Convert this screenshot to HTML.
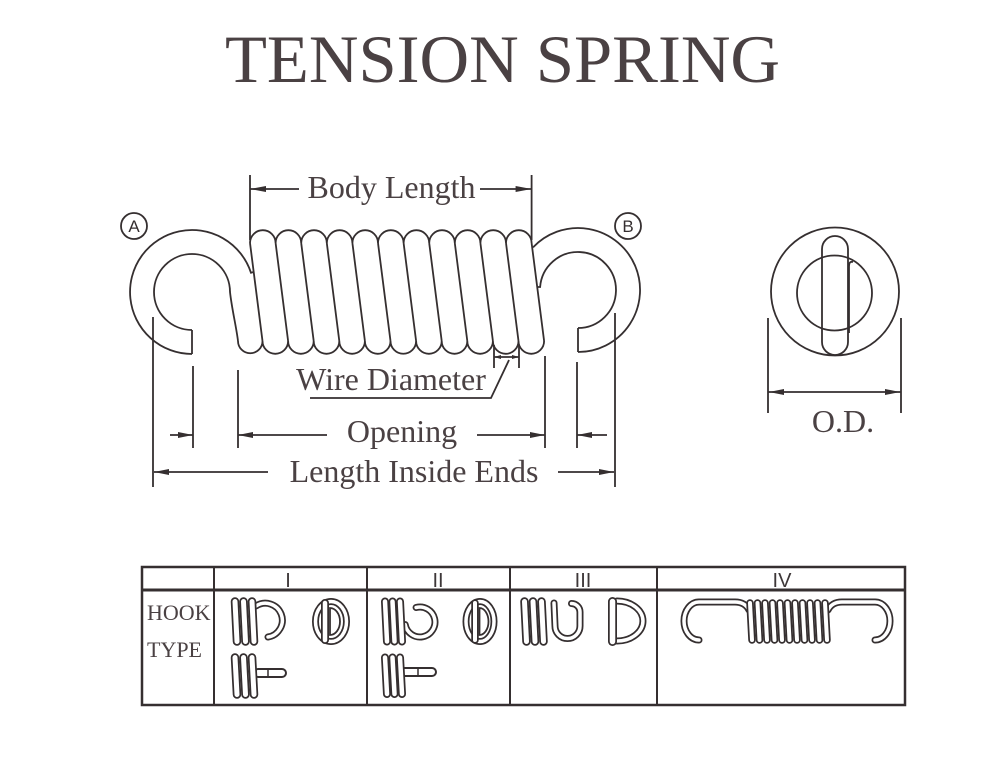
<!DOCTYPE html>
<html><head><meta charset="utf-8"><style>
html,body{margin:0;padding:0;background:#fff;}
svg{display:block;}
.l{stroke:#352f30;stroke-width:1.8;fill:none;}
.t{font-family:"Liberation Serif",serif;fill:#4a4143;}
.wb{stroke:#352f30;fill:none;stroke-linecap:round;stroke-linejoin:round;}
.ww{stroke:#fff;fill:none;stroke-linecap:round;stroke-linejoin:round;}
.ah{fill:#352f30;}
</style></head><body>
<svg width="1000" height="765" viewBox="0 0 1000 765" xmlns="http://www.w3.org/2000/svg">
<rect width="1000" height="765" fill="#fff"/>
<!-- Title -->
<text class="t" x="225" y="82" font-size="68" textLength="555" lengthAdjust="spacingAndGlyphs">TENSION SPRING</text>

<!-- Coil body -->
<path class="l" d="M250,243 A12.8,12.8 0 0 1 275.6,243 A12.8,12.8 0 0 1 301.2,243 A12.8,12.8 0 0 1 326.8,243 A12.8,12.8 0 0 1 352.4,243 A12.8,12.8 0 0 1 378,243 A12.8,12.8 0 0 1 403.6,243 A12.8,12.8 0 0 1 429.2,243 A12.8,12.8 0 0 1 454.8,243 A12.8,12.8 0 0 1 480.4,243 A12.8,12.8 0 0 1 506,243 A12.8,12.8 0 0 1 531.6,243"/>
<path class="l" d="M238,341 A12.25,12.25 0 0 0 262.5,341 A12.8,12.8 0 0 0 288.1,341 A12.8,12.8 0 0 0 313.7,341 A12.8,12.8 0 0 0 339.3,341 A12.8,12.8 0 0 0 364.9,341 A12.8,12.8 0 0 0 390.5,341 A12.8,12.8 0 0 0 416.1,341 A12.8,12.8 0 0 0 441.7,341 A12.8,12.8 0 0 0 467.3,341 A12.8,12.8 0 0 0 492.9,341 A12.8,12.8 0 0 0 518.5,341 A12.8,12.8 0 0 0 544.1,341"/>
<path class="l" d="M250,243 L262.5,341 M275.6,243 L288.1,341 M301.2,243 L313.7,341 M326.8,243 L339.3,341 M352.4,243 L364.9,341 M378,243 L390.5,341 M403.6,243 L416.1,341 M429.2,243 L441.7,341 M454.8,243 L467.3,341 M480.4,243 L492.9,341 M506,243 L518.5,341 M531.6,243 L544.1,341"/>
<!-- Hook A -->
<path class="l" d="M192,354 A62,62 0 1 1 251,272.8 L253.5,272"/>
<path class="l" d="M192,330 A38,38 0 1 1 230,292 C232,310 236,325 238,341"/>
<path class="l" d="M192,330 V354"/>
<!-- Hook B -->
<path class="l" d="M533,247.4 A62,62 0 1 1 578,352"/>
<path class="l" d="M538,287 L540.1,287 A38,38 0 1 1 578,328"/>
<path class="l" d="M578,328 V352"/>
<!-- A / B labels -->
<circle class="l" cx="134" cy="226" r="13" stroke-width="1.5"/>
<text x="134" y="232" font-family="Liberation Sans,sans-serif" font-size="17" fill="#352f30" text-anchor="middle">A</text>
<circle class="l" cx="628" cy="226" r="13" stroke-width="1.5"/>
<text x="628" y="232" font-family="Liberation Sans,sans-serif" font-size="17" fill="#352f30" text-anchor="middle">B</text>

<!-- Body Length -->
<path class="l" d="M250,175 V240 M531.6,175 V240 M250,189 H299 M480,189 H531.6"/>
<polygon class="ah" points="250,189 266,186 266,192"/>
<polygon class="ah" points="531.6,189 515.6,186 515.6,192"/>
<text class="t" x="391.5" y="198" font-size="32" text-anchor="middle">Body Length</text>

<!-- Wire diameter -->
<path class="l" d="M494,345 V368 M519,345 V368 M494,357 H519" stroke-width="1.4"/>
<polygon class="ah" points="494,357 501,355 501,359"/>
<polygon class="ah" points="519,357 512,355 512,359"/>
<path class="l" d="M509,360 L491,398 L310,398" stroke-width="1.6"/>
<text class="t" x="391" y="390" font-size="32" text-anchor="middle">Wire Diameter</text>

<!-- Lower dimensions -->
<path class="l" d="M153,317 V487 M193,366 V448 M238,370 V448 M545,356 V448 M577,362 V448 M615,313 V487"/>
<path class="l" d="M170,435 H193 M238,435 H327 M477,435 H545 M577,435 H607 M154,472 H268 M558,472 H614"/>
<polygon class="ah" points="193,435 178,432 178,438"/>
<polygon class="ah" points="238,435 253,432 253,438"/>
<polygon class="ah" points="545,435 530,432 530,438"/>
<polygon class="ah" points="577,435 592,432 592,438"/>
<polygon class="ah" points="154,472 169,469 169,475"/>
<polygon class="ah" points="614,472 599,469 599,475"/>
<text class="t" x="402" y="442" font-size="32" text-anchor="middle">Opening</text>
<text class="t" x="414" y="482" font-size="32" text-anchor="middle">Length Inside Ends</text>

<!-- OD view -->
<circle class="l" cx="835" cy="291.5" r="64"/>
<circle class="l" cx="834.5" cy="293" r="37.5"/>
<rect class="l" x="822" y="236" width="26" height="119" rx="13" fill="#fff"/>
<path class="l" d="M849,333 V266 Q849,261 853,262" />
<path class="l" d="M768,318 V413 M901,318 V413 M768,392 H901"/>
<polygon class="ah" points="769,392 784,389 784,395"/>
<polygon class="ah" points="900,392 885,389 885,395"/>
<text class="t" x="843" y="432" font-size="32" text-anchor="middle">O.D.</text>

<!-- Table -->
<rect x="142" y="567" width="763" height="138" fill="none" stroke="#352f30" stroke-width="2.5"/>
<path d="M142,590 H905" stroke="#352f30" stroke-width="3"/>
<path d="M214,567 V705 M367,567 V705 M510,567 V705 M657,567 V705" stroke="#352f30" stroke-width="2"/>
<g font-family="Liberation Sans,sans-serif" font-size="20" fill="#3d3738" text-anchor="middle">
<text x="288" y="587">I</text>
<text x="438" y="587">II</text>
<text x="583" y="587">III</text>
<text x="782" y="587">IV</text>
</g>
<text class="t" x="147" y="620" font-size="22">HOOK</text>
<text class="t" x="147" y="657" font-size="22">TYPE</text>

<!-- Type I -->
<g>
<path class="wb" stroke-width="7" d="M256,606 A17,17 0 1 1 268,637"/>
<path class="ww" stroke-width="3.5" d="M256,606 A17,17 0 1 1 268,637"/>
<path class="wb" stroke-width="8.5" d="M235,601.5 L237,641.5"/><path class="ww" stroke-width="5" d="M235,601.5 L237,641.5"/>
<path class="wb" stroke-width="8.5" d="M243.5,601.5 L245.5,641.5"/><path class="ww" stroke-width="5" d="M243.5,601.5 L245.5,641.5"/>
<path class="wb" stroke-width="8.5" d="M252,601.5 L254,641.5"/><path class="ww" stroke-width="5" d="M252,601.5 L254,641.5"/>

<ellipse cx="331" cy="621.5" rx="15.5" ry="20" fill="none" stroke="#352f30" stroke-width="7"/>
<ellipse cx="331" cy="621.5" rx="15.5" ry="20" fill="none" stroke="#fff" stroke-width="3.5"/>
<path class="wb" stroke-width="8" d="M325,603 V640"/><path class="ww" stroke-width="4.5" d="M325,603 V640"/>
<path d="M330,608 A10,13.5 0 0 1 330,635 Z" fill="none" stroke="#352f30" stroke-width="1.8"/>

<path class="wb" stroke-width="10" d="M258,673 H282"/><path class="ww" stroke-width="6" d="M258,673 H282"/>
<path d="M268,669 V677" stroke="#352f30" stroke-width="1.5"/>
<path class="wb" stroke-width="8.5" d="M235,657.5 L237,694.5"/><path class="ww" stroke-width="5" d="M235,657.5 L237,694.5"/>
<path class="wb" stroke-width="8.5" d="M243.5,657.5 L245.5,694.5"/><path class="ww" stroke-width="5" d="M243.5,657.5 L245.5,694.5"/>
<path class="wb" stroke-width="8.5" d="M252,657.5 L254,694.5"/><path class="ww" stroke-width="5" d="M252,657.5 L254,694.5"/>
</g>

<!-- Type II -->
<g>
<path class="wb" stroke-width="7" d="M405.2,624.6 A15,15 0 1 0 416.1,607.5"/>
<path class="ww" stroke-width="3.5" d="M405.2,624.6 A15,15 0 1 0 416.1,607.5"/>
<path class="wb" stroke-width="8" d="M385,601.5 L387,641.5"/><path class="ww" stroke-width="4.5" d="M385,601.5 L387,641.5"/>
<path class="wb" stroke-width="8" d="M392.5,601.5 L394.5,641.5"/><path class="ww" stroke-width="4.5" d="M392.5,601.5 L394.5,641.5"/>
<path class="wb" stroke-width="8" d="M400,601.5 L402,641.5"/><path class="ww" stroke-width="4.5" d="M400,601.5 L402,641.5"/>

<ellipse cx="480" cy="621.5" rx="14" ry="20" fill="none" stroke="#352f30" stroke-width="7"/>
<ellipse cx="480" cy="621.5" rx="14" ry="20" fill="none" stroke="#fff" stroke-width="3.5"/>
<path class="wb" stroke-width="7.5" d="M475,603 V640"/><path class="ww" stroke-width="4" d="M475,603 V640"/>
<path d="M479.5,608 A9,13.5 0 0 1 479.5,635 Z" fill="none" stroke="#352f30" stroke-width="1.8"/>

<path class="wb" stroke-width="10" d="M404,672 H432"/><path class="ww" stroke-width="6" d="M404,672 H432"/>
<path d="M418,668 V676" stroke="#352f30" stroke-width="1.5"/>
<path class="wb" stroke-width="8" d="M385,657.5 L387,694"/><path class="ww" stroke-width="4.5" d="M385,657.5 L387,694"/>
<path class="wb" stroke-width="8" d="M392.5,657.5 L394.5,694"/><path class="ww" stroke-width="4.5" d="M392.5,657.5 L394.5,694"/>
<path class="wb" stroke-width="8" d="M400,657.5 L402,694"/><path class="ww" stroke-width="4.5" d="M400,657.5 L402,694"/>
</g>

<!-- Type III -->
<g>
<path class="wb" stroke-width="7" d="M554,603 L555,626 A12.5,12.5 0 0 0 580,626 L580,612 A8.5,8.5 0 0 0 571.5,603.5"/>
<path class="ww" stroke-width="3.5" d="M554,603 L555,626 A12.5,12.5 0 0 0 580,626 L580,612 A8.5,8.5 0 0 0 571.5,603.5"/>
<path class="wb" stroke-width="8.5" d="M524.5,601.5 L526.5,641.5"/><path class="ww" stroke-width="5" d="M524.5,601.5 L526.5,641.5"/>
<path class="wb" stroke-width="8.5" d="M533,601.5 L535,641.5"/><path class="ww" stroke-width="5" d="M533,601.5 L535,641.5"/>
<path class="wb" stroke-width="8.5" d="M541.5,601.5 L543.5,641.5"/><path class="ww" stroke-width="5" d="M541.5,601.5 L543.5,641.5"/>

<path class="wb" stroke-width="7" d="M617,601 A26,20 0 0 1 617,641"/>
<path class="ww" stroke-width="3.5" d="M617,601 A26,20 0 0 1 617,641"/>
<path class="wb" stroke-width="9" d="M612.5,601.5 V641.5"/><path class="ww" stroke-width="5.5" d="M612.5,601.5 V641.5"/>
</g>

<!-- Type IV -->
<g>
<path class="wb" stroke-width="7" d="M699,640 A15,19 0 0 1 699,602 L735,602 Q745,602 749,610"/>
<path class="ww" stroke-width="3.5" d="M699,640 A15,19 0 0 1 699,602 L735,602 Q745,602 749,610"/>
<path class="wb" stroke-width="7" d="M828,610 Q832,602 842,602 L875,602 A15,19 0 0 1 875,640"/>
<path class="ww" stroke-width="3.5" d="M828,610 Q832,602 842,602 L875,602 A15,19 0 0 1 875,640"/>
<g>
<path class="wb" stroke-width="7.5" d="M750,603 L752,640"/><path class="ww" stroke-width="4" d="M750,603 L752,640"/>
<path class="wb" stroke-width="7.5" d="M757.5,603 L759.5,640"/><path class="ww" stroke-width="4" d="M757.5,603 L759.5,640"/>
<path class="wb" stroke-width="7.5" d="M765,603 L767,640"/><path class="ww" stroke-width="4" d="M765,603 L767,640"/>
<path class="wb" stroke-width="7.5" d="M772.5,603 L774.5,640"/><path class="ww" stroke-width="4" d="M772.5,603 L774.5,640"/>
<path class="wb" stroke-width="7.5" d="M780,603 L782,640"/><path class="ww" stroke-width="4" d="M780,603 L782,640"/>
<path class="wb" stroke-width="7.5" d="M787.5,603 L789.5,640"/><path class="ww" stroke-width="4" d="M787.5,603 L789.5,640"/>
<path class="wb" stroke-width="7.5" d="M795,603 L797,640"/><path class="ww" stroke-width="4" d="M795,603 L797,640"/>
<path class="wb" stroke-width="7.5" d="M802.5,603 L804.5,640"/><path class="ww" stroke-width="4" d="M802.5,603 L804.5,640"/>
<path class="wb" stroke-width="7.5" d="M810,603 L812,640"/><path class="ww" stroke-width="4" d="M810,603 L812,640"/>
<path class="wb" stroke-width="7.5" d="M817.5,603 L819.5,640"/><path class="ww" stroke-width="4" d="M817.5,603 L819.5,640"/>
<path class="wb" stroke-width="7.5" d="M825,603 L827,640"/><path class="ww" stroke-width="4" d="M825,603 L827,640"/>
</g>
</g>
</svg>
</body></html>
